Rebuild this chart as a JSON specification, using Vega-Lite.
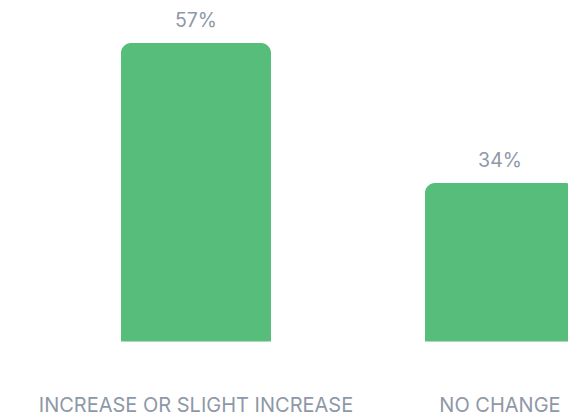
{
  "$schema": "https://vega.github.io/schema/vega-lite/v6.json",
  "autosize": "none",
  "width": 568,
  "height": 298.5,
  "padding": {"top": 43, "left": 0, "right": 0, "bottom": 75.5},
  "background": "white",
  "config": {"view": {"stroke": null}},
  "data": {"values": [
    {"category": "INCREASE OR SLIGHT INCREASE", "value": 57, "label": "57%"},
    {"category": "NO CHANGE", "value": 34, "label": "34%"}
  ]},
  "encoding": {
    "x": {
      "field": "category", "type": "nominal", "sort": null,
      "scale": {"range": [0, 696], "paddingInner": 0.5066, "paddingOuter": 0.398},
      "axis": {
        "title": null, "domain": false, "ticks": false, "grid": false,
        "labelAngle": 0, "labelPadding": 53.5, "labelFont": "Inter", "labelFontSize": 20,
        "labelColor": "#8E98A7", "labelLimit": 1000, "labelFontWeight": 400
      }
    },
    "y": {
      "field": "value", "type": "quantitative",
      "scale": {"domain": [8, 57], "zero": false, "nice": false},
      "axis": null
    }
  },
  "layer": [
    {
      "mark": {"type": "bar", "color": "#56BD7B", "cornerRadiusTopLeft": 10, "cornerRadiusTopRight": 10, "clip": false},
      "encoding": {"y2": {"datum": 8}}
    },
    {
      "mark": {"type": "text", "baseline": "alphabetic", "dy": -16.5, "font": "Inter", "fontSize": 19.5, "color": "#8E98A7"},
      "encoding": {"text": {"field": "label"}}
    }
  ]
}
